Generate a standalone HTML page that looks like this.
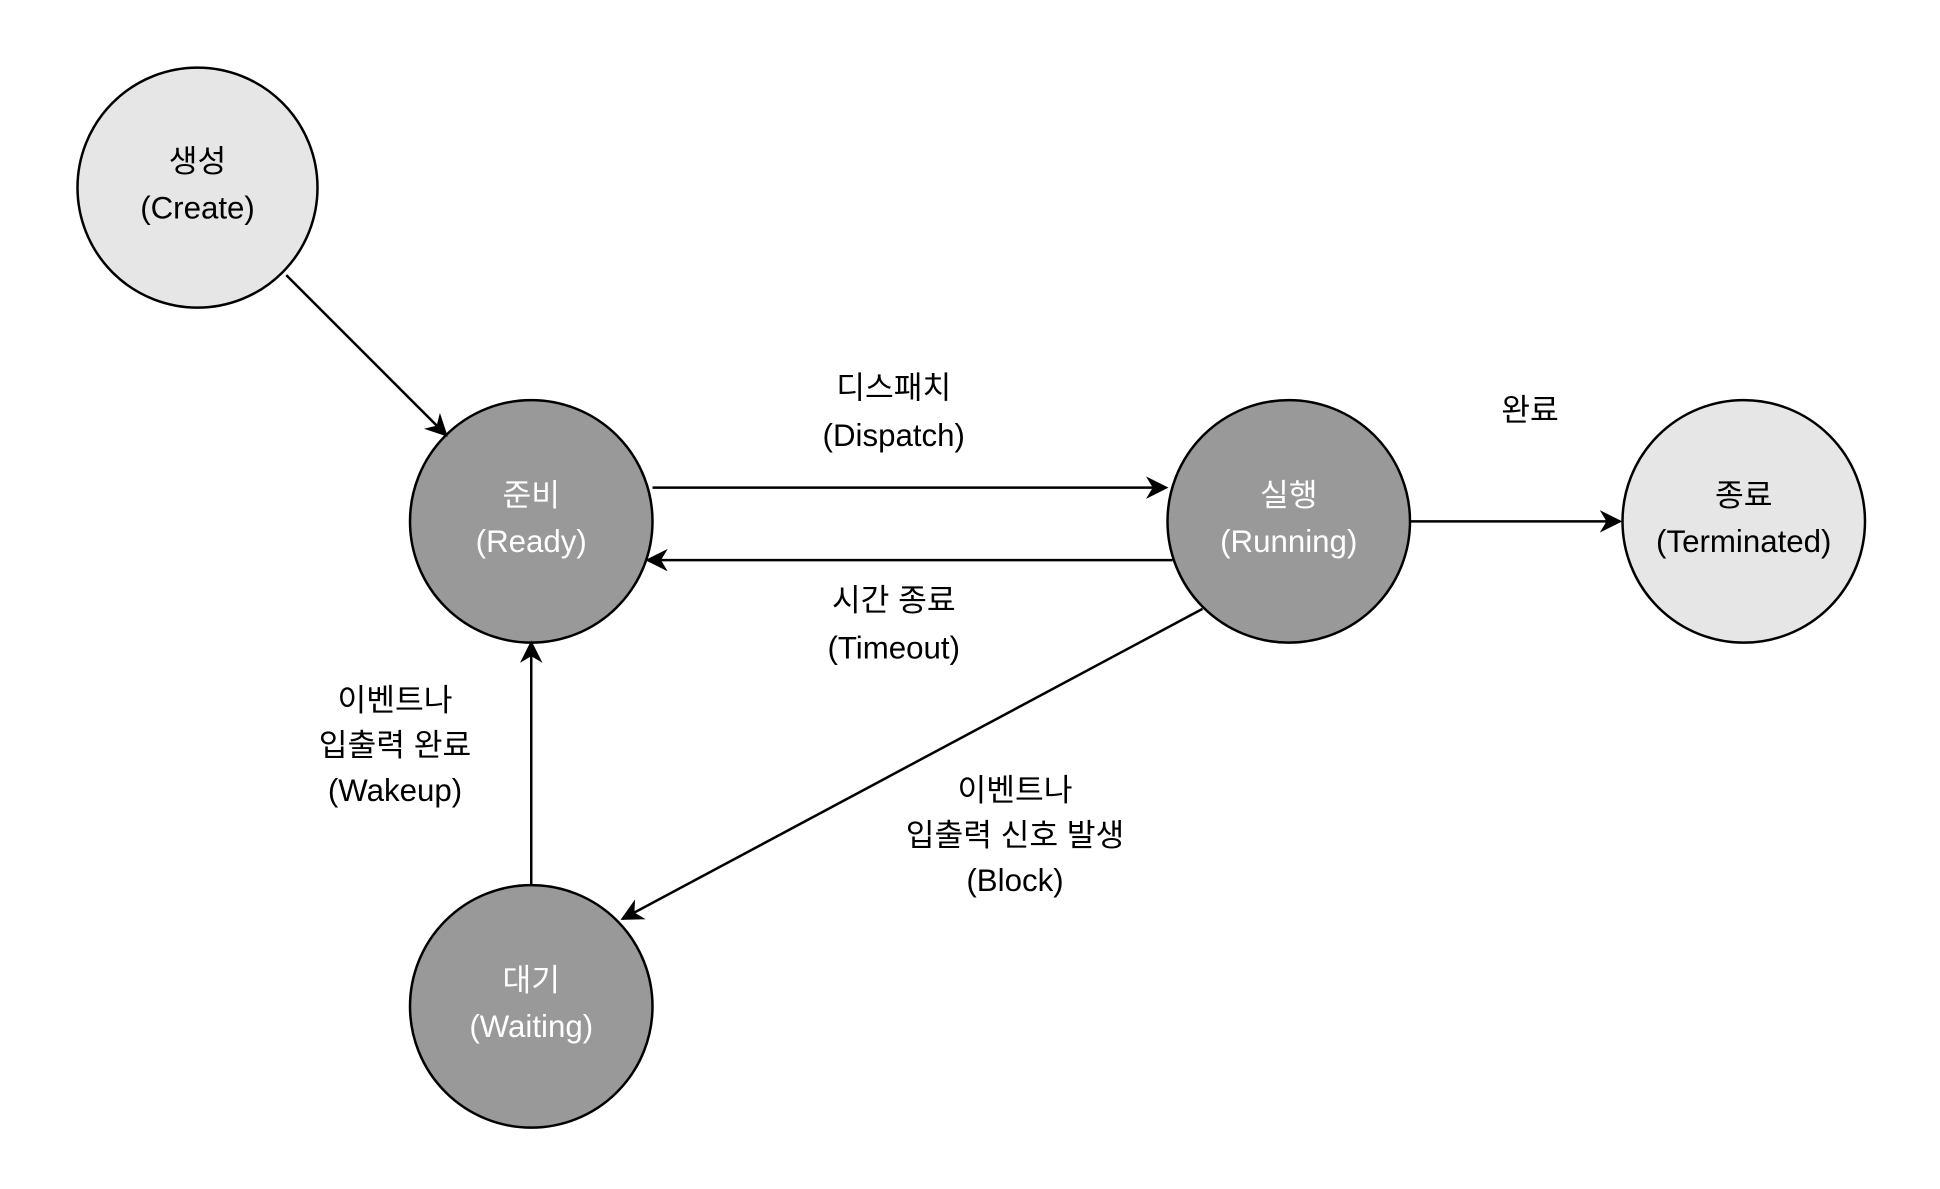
<!DOCTYPE html>
<html><head><meta charset="utf-8"><style>
html,body{margin:0;padding:0;background:#fff;}
svg{display:block;}
text{font-family:"Liberation Sans","Noto Sans CJK KR",sans-serif;font-size:25px;text-anchor:middle;dominant-baseline:middle;}
</style></head><body>
<svg width="1940" height="1189" viewBox="0 0 1552 951" xmlns="http://www.w3.org/2000/svg">
<defs><marker id="a" viewBox="0 0 10 10" refX="9" refY="5" markerWidth="7" markerHeight="7" orient="auto" markerUnits="userSpaceOnUse"><path d="M0,0 L10,5 L0,10 L3,5 z" fill="#000"/></marker>
<marker id="b" viewBox="0 0 10 10" refX="9" refY="5" markerWidth="18" markerHeight="18" orient="auto" markerUnits="userSpaceOnUse"><path d="M0,0 L10,5 L0,10 L3,5 z" fill="#000"/></marker></defs>
<g stroke="#000" stroke-width="2">
<circle cx="158" cy="150" r="96" fill="#e6e6e6"/>
<circle cx="425" cy="417" r="97" fill="#999"/>
<circle cx="1031" cy="417" r="97" fill="#999"/>
<circle cx="1395" cy="417" r="97" fill="#e6e6e6"/>
<circle cx="425" cy="805" r="97" fill="#999"/>
<g fill="none" marker-end="url(#b)">
<line x1="229" y1="220" x2="357" y2="348"/>
<line x1="522" y1="390" x2="933" y2="390"/>
<line x1="938" y1="448" x2="518" y2="448"/>
<line x1="1128" y1="417" x2="1296" y2="417"/>
<line x1="962" y1="487" x2="498" y2="735"/>
<line x1="425" y1="708" x2="425" y2="514"/>
</g></g>
<g fill="#000">
<text x="158" y="131">생성</text><text x="158" y="168">(Create)</text>
<text x="1395" y="398">종료</text><text x="1395" y="435">(Terminated)</text>
<text x="715" y="312">디스패치</text><text x="715" y="350">(Dispatch)</text>
<text x="715" y="482">시간 종료</text><text x="715" y="520">(Timeout)</text>
<text x="1224" y="330">완료</text>
<text x="316" y="562">이벤트나</text><text x="316" y="598">입출력 완료</text><text x="316" y="634">(Wakeup)</text>
<text x="812" y="634">이벤트나</text><text x="812" y="670">입출력 신호 발생</text><text x="812" y="706">(Block)</text>
</g>
<g fill="#fff">
<text x="425" y="398">준비</text><text x="425" y="435">(Ready)</text>
<text x="1031" y="398">실행</text><text x="1031" y="435">(Running)</text>
<text x="425" y="786">대기</text><text x="425" y="823">(Waiting)</text>
</g>
</svg>
</body></html>
